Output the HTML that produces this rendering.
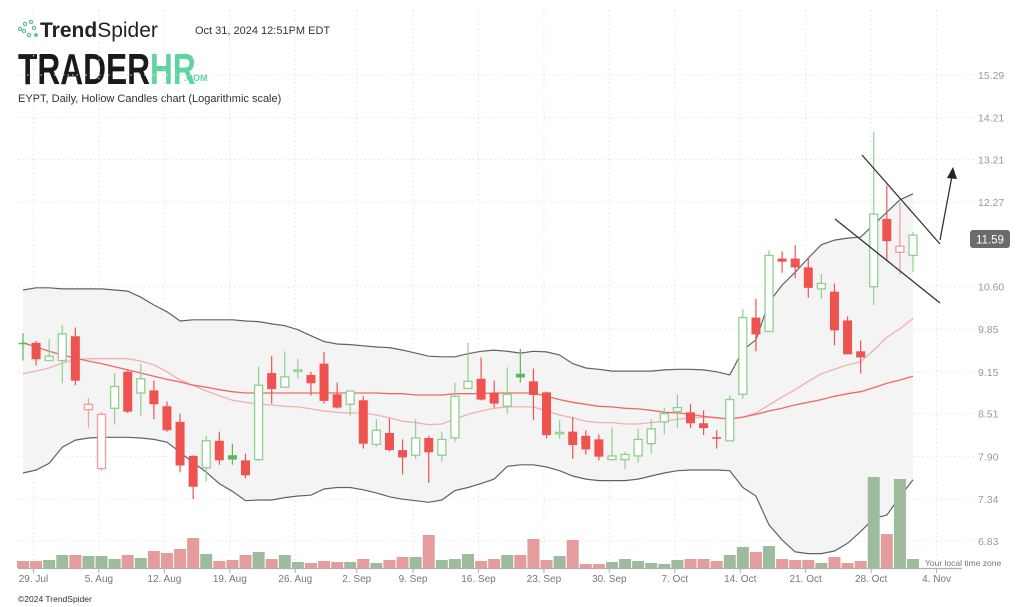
<!DOCTYPE html>
<html><head><meta charset="utf-8">
<style>
html,body{margin:0;padding:0;background:#fff;}
body{width:1024px;height:607px;overflow:hidden;position:relative;font-family:"Liberation Sans",sans-serif;}
svg{position:absolute;left:0;top:0;}
</style></head>
<body>
<svg id="chart" width="1024" height="607" viewBox="0 0 1024 607" xmlns="http://www.w3.org/2000/svg">
  <g>
    <g fill="none" stroke="#5fb89a" stroke-width="1.2">
      <circle cx="20" cy="29" r="1.6"/><circle cx="25" cy="24" r="1.6"/><circle cx="31" cy="22" r="1.6"/>
      <circle cx="24" cy="31" r="1.6"/><circle cx="29" cy="35" r="1.6"/><circle cx="34" cy="28" r="1.6"/>
      <circle cx="36" cy="35" r="1.3" fill="#5fb89a"/>
    </g>
    <text x="40" y="37" font-size="21" fill="#222"><tspan font-weight="bold">Trend</tspan>Spider</text>
    <text x="195" y="34" font-size="11" fill="#333">Oct 31, 2024 12:51PM EDT</text>
    <text x="18" y="84" font-size="44" font-weight="bold" fill="#1a1a1a" transform="translate(18,84) scale(0.72,1) translate(-18,-84)">TRADER<tspan fill="#5fd3a0">HR</tspan></text>
    <text x="184" y="81" font-size="9" font-weight="bold" fill="#5fd3a0">.COM</text>
    <text x="18" y="102" font-size="11" fill="#333">EYPT, Daily, Hollow Candles chart (Logarithmic scale)</text>
  </g>
  <g id="grid"></g>
  <g id="bands"></g>
  <g id="volume"></g>
  <g id="candles"></g>
  <g id="axes"></g>
  <g stroke="#333" stroke-width="1.3" fill="none">
    <line x1="862" y1="155" x2="940" y2="244"/>
    <line x1="835" y1="219" x2="940" y2="303"/>
    <line x1="940" y1="240" x2="952" y2="176"/>
    <polygon points="953,167 947,178 957,179" fill="#222" stroke="none"/>
  </g>
  <g>
    <rect x="970" y="230" width="40" height="18" rx="3" fill="#6b6b6b"/>
    <text x="990" y="243.5" font-size="11.5" fill="#fff" text-anchor="middle">11.59</text>
  </g>
  <text x="925" y="566" font-size="8.5" fill="#777">Your local time zone</text>
  <text x="18" y="602" font-size="8.5" fill="#333">©2024 TrendSpider</text>
</svg>
<script>
const opens  = [9.62,9.62,9.33,9.33,9.73,8.57,7.74,8.59,9.15,8.82,8.86,8.62,8.39,7.91,7.75,8.12,7.92,7.85,7.86,9.13,8.91,9.17,9.10,9.28,8.80,8.65,8.71,8.07,8.23,7.99,7.92,8.16,7.92,8.16,8.89,9.04,8.82,8.62,9.12,9.00,8.83,8.22,8.25,8.19,8.14,7.86,7.86,7.91,8.08,8.39,8.54,8.53,8.37,8.17,8.12,8.80,10.05,9.81,11.13,11.13,10.96,10.56,10.51,10.00,9.48,10.60,11.92,11.25,11.19];
const highs  = [9.78,9.65,9.68,9.92,9.88,8.74,8.53,9.13,9.18,9.28,9.01,8.69,8.51,7.92,8.19,8.25,8.08,7.94,9.23,9.40,9.48,9.36,9.15,9.47,8.98,8.86,8.77,8.43,8.44,8.14,8.43,8.19,8.25,8.98,9.62,9.38,9.01,9.22,9.52,9.20,8.84,8.42,8.46,8.27,8.21,8.31,7.97,8.29,8.43,8.60,8.80,8.65,8.56,8.27,8.78,10.20,10.38,11.29,11.27,11.39,11.13,10.84,10.66,10.07,9.66,13.85,12.63,12.27,11.65];
const lows   = [9.33,9.25,9.32,8.97,8.94,8.31,7.71,8.35,8.52,8.48,8.43,8.25,7.69,7.34,7.57,7.79,7.79,7.61,7.84,8.66,8.90,9.04,8.78,8.66,8.59,8.48,8.01,8.04,7.97,7.66,7.87,7.55,7.83,8.10,8.88,8.71,8.60,8.51,8.98,8.42,8.15,8.15,7.87,7.93,7.85,7.85,7.73,7.82,7.94,8.21,8.30,8.30,8.20,8.01,8.12,8.73,9.48,9.81,10.86,10.76,10.40,10.38,9.58,9.43,9.12,10.27,11.11,10.82,10.88];
const closes = [9.60,9.35,9.40,9.77,9.01,8.65,8.50,8.92,8.54,9.04,8.65,8.27,7.78,7.50,8.12,7.85,7.86,7.65,8.94,8.88,9.07,9.18,8.97,8.70,8.60,8.85,8.08,8.27,7.99,7.89,8.16,7.96,8.14,8.77,9.00,8.72,8.66,8.80,9.06,8.79,8.20,8.24,8.06,8.00,7.90,7.91,7.93,8.14,8.29,8.51,8.60,8.37,8.30,8.16,8.72,10.05,9.76,11.19,11.07,10.96,10.58,10.66,9.83,9.43,9.38,12.02,11.47,11.37,11.59];
const volumes = [350,350,400,650,650,600,600,450,650,500,850,750,950,1500,700,350,400,650,800,450,650,300,250,350,300,300,450,250,400,550,550,1650,400,450,700,350,450,650,650,1450,400,600,1400,200,200,300,450,350,250,200,400,450,450,350,650,1050,800,1100,450,400,400,250,550,250,350,4550,1700,4450,450];
const upperBand = [10.54,10.58,10.58,10.56,10.56,10.56,10.56,10.54,10.52,10.41,10.27,10.15,9.99,10.01,10.01,10.01,10.01,9.99,9.98,9.94,9.91,9.84,9.74,9.64,9.60,9.59,9.57,9.55,9.54,9.50,9.45,9.40,9.39,9.39,9.44,9.48,9.50,9.48,9.45,9.48,9.47,9.42,9.28,9.21,9.19,9.16,9.16,9.16,9.16,9.18,9.19,9.19,9.18,9.15,9.10,9.50,9.67,10.32,10.63,10.87,11.14,11.40,11.49,11.53,11.55,11.80,12.06,12.32,12.45];
const lowerBand = [7.68,7.72,7.81,8.03,8.13,8.16,8.17,8.17,8.17,8.16,8.14,8.10,7.96,7.82,7.69,7.54,7.44,7.32,7.33,7.33,7.36,7.38,7.39,7.47,7.49,7.49,7.46,7.42,7.37,7.34,7.32,7.30,7.33,7.45,7.49,7.54,7.60,7.77,7.79,7.79,7.76,7.71,7.64,7.60,7.58,7.58,7.58,7.60,7.64,7.68,7.71,7.72,7.72,7.72,7.71,7.49,7.38,7.02,6.84,6.70,6.68,6.68,6.71,6.80,6.94,7.10,7.14,7.37,7.59];
const middleBand = [9.12,9.16,9.21,9.29,9.34,9.36,9.36,9.36,9.36,9.32,9.26,9.15,9.02,8.94,8.85,8.78,8.71,8.68,8.65,8.64,8.62,8.61,8.58,8.55,8.53,8.52,8.52,8.49,8.45,8.40,8.38,8.35,8.36,8.43,8.50,8.55,8.59,8.61,8.61,8.61,8.55,8.49,8.45,8.40,8.38,8.38,8.36,8.36,8.38,8.40,8.43,8.45,8.46,8.45,8.43,8.46,8.52,8.64,8.76,8.87,9.00,9.12,9.19,9.26,9.31,9.50,9.71,9.86,10.03];
const sma50 = [9.62,9.55,9.48,9.42,9.37,9.32,9.28,9.23,9.18,9.13,9.08,9.03,8.99,8.94,8.91,8.87,8.84,8.82,8.82,8.82,8.82,8.82,8.82,8.82,8.82,8.82,8.82,8.82,8.81,8.81,8.79,8.79,8.79,8.81,8.81,8.81,8.82,8.82,8.82,8.82,8.77,8.72,8.68,8.65,8.62,8.61,8.59,8.58,8.56,8.53,8.52,8.50,8.47,8.45,8.43,8.46,8.50,8.55,8.59,8.64,8.68,8.72,8.77,8.81,8.84,8.90,8.97,9.02,9.08];
const priceTicks = [15.29,14.21,13.21,12.27,10.60,9.85,9.15,8.51,7.90,7.34,6.83];
const dateLabels = ["29. Jul","5. Aug","12. Aug","19. Aug","26. Aug","2. Sep","9. Sep","16. Sep","23. Sep","30. Sep","7. Oct","14. Oct","21. Oct","28. Oct","4. Nov"];
const dateIndex = [0.8,5.8,10.8,15.8,20.8,25.5,29.8,34.8,39.8,44.8,49.8,54.8,59.8,64.8,69.8];

const NS = "http://www.w3.org/2000/svg";
const X0 = 23, X1 = 913, N = 69;
const xOf = i => X0 + i * (X1 - X0) / (N - 1);
const yOf = p => 75 + (Math.log(15.29) - Math.log(p)) * 578;
const VBASE = 568;
const yVol = v => VBASE - v / 50;
const PLOT_L = 18, PLOT_R = 962;
function mk(tag, attrs, parent){const e=document.createElementNS(NS,tag);for(const k in attrs)e.setAttribute(k,attrs[k]);parent.appendChild(e);return e;}

const grid = document.getElementById('grid');
priceTicks.forEach(t=>{
  const y = yOf(t);
  const l = mk('line',{x1:PLOT_L,x2:975,y1:y,y2:y,stroke:'#e4e4e4','stroke-dasharray':'1.5,3'},grid);
  
  
});
dateIndex.forEach(d=>{
  const x = xOf(d);
  const l = mk('line',{x1:x,x2:x,y1:10,y2:VBASE,stroke:'#e4e4e4','stroke-dasharray':'1.5,3'},grid);
  
  
});

const bands = document.getElementById('bands');
let fill = '';
upperBand.forEach((v,i)=>{fill += (i?'L':'M') + xOf(i).toFixed(1)+','+yOf(v).toFixed(1);});
for(let i=lowerBand.length-1;i>=0;i--) fill += 'L'+xOf(i).toFixed(1)+','+yOf(lowerBand[i]).toFixed(1);
const bf = mk('path',{d:fill+'Z',fill:'#f4f4f4',stroke:'none'},bands);


function line(arr,color,w,name){
  let d='';arr.forEach((v,i)=>{d+=(i?'L':'M')+xOf(i).toFixed(1)+','+yOf(v).toFixed(1);});
  const p = mk('path',{d:d,fill:'none',stroke:color,'stroke-width':w},bands);
  
  
}
line(upperBand,'#5f6368',1.2,'upper-band');
line(lowerBand,'#5f6368',1.2,'lower-band');
line(middleBand,'#f2b0ae',1.3,'middle-band');
line(sma50,'#ee6a62',1.3,'sma-line');

const vol = document.getElementById('volume');
volumes.forEach((v,i)=>{
  const up = closes[i] >= opens[i];
  const x = xOf(i), y = yVol(v);
  const r = mk('rect',{x:x-6,y:y,width:12,height:VBASE-y,fill:up?'#9dbb9d':'#e59c9c'},vol);
  
  
});

const cg = document.getElementById('candles');
opens.forEach((o,i)=>{
  const c = closes[i], h = highs[i], l = lows[i];
  const green = i===0 ? true : c >= closes[i-1];
  const hollow = c > o;
  const x = xOf(i);
  const strong = green ? '#5cb85c' : '#ef5350';
  const light = green ? '#8fd08f' : '#f49a98';
  const col = hollow ? light : strong;
  const g = mk('g',{},cg);
  
  
  mk('line',{x1:x,x2:x,y1:yOf(h),y2:yOf(l),stroke:hollow?light:strong,'stroke-width':1.2},g);
  const top = yOf(Math.max(o,c)), bot = yOf(Math.min(o,c));
  const hgt = Math.max(bot-top,1.5);
  if(hollow){
    mk('rect',{x:x-4,y:top,width:8,height:hgt,fill:'#fff',stroke:col,'stroke-width':1.3},g);
  } else {
    mk('rect',{x:x-4.5,y:top,width:9,height:hgt,fill:strong},g);
  }
});

const ax = document.getElementById('axes');
const al = mk('line',{x1:PLOT_L,x2:PLOT_R,y1:VBASE+0.5,y2:VBASE+0.5,stroke:'#b0b0b0','stroke-width':1.2},ax);


dateLabels.forEach((t,k)=>{
  const x = xOf(dateIndex[k]);
  mk('line',{x1:x,x2:x,y1:VBASE,y2:VBASE+5,stroke:'#b0b0b0'},ax);
  const tx = mk('text',{x:x,y:582,'font-size':10,fill:'#777','text-anchor':'middle'},ax);
  tx.textContent = t;
  
  
});
priceTicks.forEach(t=>{
  const tx = mk('text',{x:978,y:yOf(t)+4,'font-size':10.5,fill:'#999'},ax);
  tx.textContent = t.toFixed(2);
  
  
});
</script>
</body></html>
